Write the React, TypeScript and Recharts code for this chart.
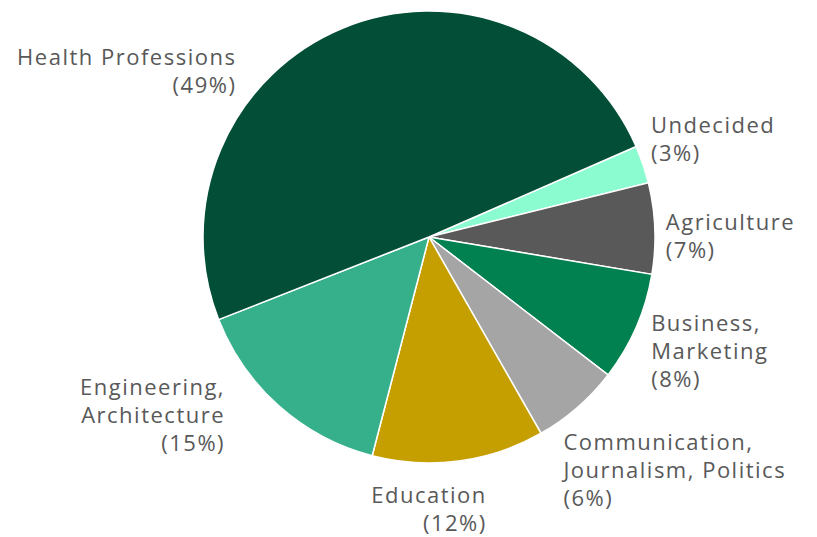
import React from "react";
import { PieChart, Pie, Cell } from "recharts";

const categories = [
  "Undecided",
  "Agriculture",
  "Business, Marketing",
  "Communication, Journalism, Politics",
  "Education",
  "Engineering, Architecture",
  "Health Professions",
];
const labelLines = [
  ["Undecided"],
  ["Agriculture"],
  ["Business,", "Marketing"],
  ["Communication,", "Journalism, Politics"],
  ["Education"],
  ["Engineering,", "Architecture"],
  ["Health Professions"],
];
const shares = [2.7, 6.5, 7.8, 6.3, 12.3, 15.0, 49.4];
const colors = ["#8BFCD0", "#595959", "#028150", "#A5A5A5", "#C59E00", "#36B08A", "#034E37"];

// label layout: [dx, dy, anchor] relative to the slice's outer midpoint
const labelNudges: [number, number, "start" | "end"][] = [
  [8, -31, "start"],
  [11, 2, "start"],
  [15, 4, "start"],
  [-14, 43, "start"],
  [28, 42, "end"],
  [-54, -11, "end"],
  [-106, 37, "end"],
];

const data = categories.map((name, i) => ({ name, value: shares[i] }));

const RAD = Math.PI / 180;
const LINE_H = 28;

const renderLabel = (props: any) => {
  const { cx, cy, midAngle, outerRadius, index, value } = props;
  const px = cx + outerRadius * Math.cos(-midAngle * RAD);
  const py = cy + outerRadius * Math.sin(-midAngle * RAD);
  const [dx, dy, anchor] = labelNudges[index];
  const lines = [...labelLines[index], `(${Math.round(value)}%)`];
  return (
    <text
      x={px + dx}
      y={py + dy}
      textAnchor={anchor}
      fill="#595959"
      fontSize={22}
      letterSpacing={1.5}
      fontFamily="'Open Sans', sans-serif"
    >
      {lines.map((l, k) => (
        <tspan key={k} x={px + dx} y={py + dy + k * LINE_H}>
          {l}
        </tspan>
      ))}
    </text>
  );
};

export default function App() {
  return (
    <div style={{ position: "absolute", left: 0, top: 0, width: 817, height: 537, background: "#fff" }}>
      <PieChart width={817} height={537} margin={{ top: 0, right: 0, bottom: 0, left: 0 }}>
        <Pie
          data={data}
          dataKey="value"
          nameKey="name"
          cx={429}
          cy={237}
          outerRadius={226}
          startAngle={23.6}
          endAngle={-336.4}
          stroke="#ffffff"
          strokeWidth={1.5}
          label={renderLabel}
          labelLine={false}
          isAnimationActive={false}
        >
          {data.map((d, i) => (
            <Cell key={d.name} fill={colors[i]} />
          ))}
        </Pie>
      </PieChart>
    </div>
  );
}
